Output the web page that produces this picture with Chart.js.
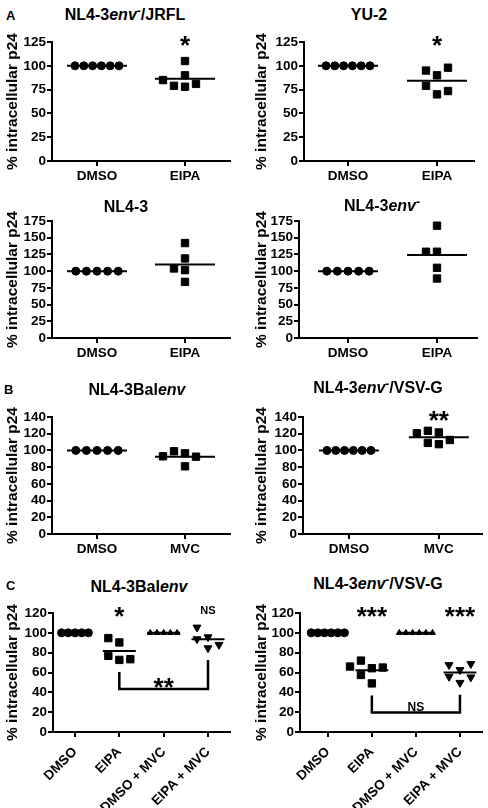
<!DOCTYPE html>
<html>
<head>
<meta charset="utf-8">
<script src="https://cdn.jsdelivr.net/npm/chart.js@4.4.1/dist/chart.umd.min.js"></script>
<style>
  html, body { margin: 0; padding: 0; background: #fff; }
  #page { position: relative; width: 488px; height: 808px; overflow: hidden; font-family: "Liberation Sans", Arial, sans-serif; color: #000; }
  canvas { position: absolute; }
  .ttl { position: absolute; width: 240px; text-align: center; font-weight: bold; font-size: 16px; line-height: 16px; white-space: nowrap; }
  .ttl sup { font-size: 12px; line-height: 0; vertical-align: 5px; }
  .let { position: absolute; font-weight: bold; font-size: 13px; line-height: 13px; }
</style>
</head>
<body>
<div id="page">
  <div class="let" style="left:6px;top:9px">A</div>
  <div class="let" style="left:4px;top:383px">B</div>
  <div class="let" style="left:6px;top:579px">C</div>
  <div class="ttl" style="left:5px;top:7px">NL4-3<i>env</i><sup>-</sup>/JRFL</div>
  <div class="ttl" style="left:249px;top:7px">YU-2</div>
  <div class="ttl" style="left:6px;top:199px">NL4-3</div>
  <div class="ttl" style="left:262px;top:198px">NL4-3<i>env</i><sup>-</sup></div>
  <div class="ttl" style="left:17px;top:382px">NL4-3Bal<i>env</i></div>
  <div class="ttl" style="left:258px;top:380px">NL4-3<i>env</i><sup>-</sup>/VSV-G</div>
  <div class="ttl" style="left:19px;top:579px">NL4-3Bal<i>env</i></div>
  <div class="ttl" style="left:258px;top:576px">NL4-3<i>env</i><sup>-</sup>/VSV-G</div>
</div>
<script>
// categories
const catsEipa = ['DMSO', 'EIPA'];
const catsMvc = ['DMSO', 'MVC'];
const catsCombo = ['DMSO', 'EIPA', 'DMSO + MVC', 'EIPA + MVC'];

// A: % intracellular p24
const jrflDmso = [100, 100, 100, 100, 100, 100];
const jrflEipa = [105, 90, 78, 79, 81, 85];
const jrflSig = ['', '*'];

const yu2Dmso = [100, 100, 100, 100, 100, 100];
const yu2Eipa = [90, 70, 95, 79, 98, 73.5];
const yu2Sig = ['', '*'];

const nl43Dmso = [100, 100, 100, 100, 100];
const nl43Eipa = [142, 119, 101.5, 84, 104];

const envDmso = [100, 100, 100, 100, 100];
const envEipa = [168, 129, 89, 129, 105];

// B
const balDmso = [100, 100, 100, 100, 100];
const balMvc = [96.5, 81, 99, 92.5, 93];

const vsvDmso = [100, 100, 100, 100, 100, 100];
const vsvMvc = [121.5, 107.5, 123.5, 112.5, 109, 120.5];
const vsvSig = ['', '**'];

// C
const balCDmso = [100, 100, 100, 100, 100];
const balCEipa = [90.3, 72.7, 94.7, 76.8, 73.4];
const balCDmsoMvc = [100, 100, 100, 100, 100];
const balCEipaMvc = [95.7, 84.6, 105.5, 93.7, 88];
const balCSig = ['', '*', '', 'NS'];
const balCBracket = [1, 3, '**'];

const vsvCDmso = [100, 100, 100, 100, 100, 100];
const vsvCEipa = [64.3, 49, 72, 65, 66, 57.5];
const vsvCDmsoMvc = [100, 100, 100, 100, 100, 100];
const vsvCEipaMvc = [62.6, 49.7, 67.6, 55.8, 68.7, 55.2];
const vsvCSig = ['', '***', '', '***'];
const vsvCBracket = [1, 3, 'NS'];

const FONT = '"Liberation Sans", Arial, sans-serif';

const markers = {
  circle: { pointStyle: 'circle', radius: 4, rotation: 0 },
  rect: { pointStyle: 'rect', radius: 5.2, rotation: 0 },
  down: { pointStyle: 'triangle', radius: 4.6, rotation: 180 },
  up: { pointStyle: 'triangle', radius: 3.4, rotation: 0 }
};

const looks = {
  AB: { maxGap: 10.6, maxSpan: 44, step: 11, meanHalf: 30, rot: 0, labelPad: 2 },
  C: { maxGap: 6.7, maxSpan: 34, step: 11, meanHalf: 16.5, rot: 45, labelPad: 7 }
};

// canvas: [left, top, width, height]; area: chart area in page px
const panels = [
  { canvas: [0, 24, 244, 162], area: [52, 42, 230, 161], tickPx: [97, 185], yMax: 125, yStep: 25, cats: catsEipa, look: 'AB',
    groups: [[jrflDmso, 'circle'], [jrflEipa, 'rect']], sig: jrflSig },
  { canvas: [249, 24, 239, 162], area: [304, 42, 474, 161], tickPx: [348, 437], yMax: 125, yStep: 25, cats: catsEipa, look: 'AB',
    groups: [[yu2Dmso, 'circle'], [yu2Eipa, 'rect']], sig: yu2Sig },
  { canvas: [0, 210, 244, 155], area: [52, 221, 230, 338], tickPx: [97, 185], yMax: 175, yStep: 25, cats: catsEipa, look: 'AB',
    groups: [[nl43Dmso, 'circle'], [nl43Eipa, 'rect']] },
  { canvas: [249, 210, 239, 155], area: [299, 221, 477, 338], tickPx: [348, 437], yMax: 175, yStep: 25, cats: catsEipa, look: 'AB',
    groups: [[envDmso, 'circle'], [envEipa, 'rect']] },
  { canvas: [0, 398, 244, 162], area: [52, 417, 230, 534], tickPx: [97, 185], yMax: 140, yStep: 20, cats: catsMvc, look: 'AB',
    groups: [[balDmso, 'circle'], [balMvc, 'rect']] },
  { canvas: [249, 395, 239, 165], area: [303, 417, 482, 534], tickPx: [349, 439], yMax: 140, yStep: 20, cats: catsMvc, look: 'AB',
    groups: [[vsvDmso, 'circle'], [vsvMvc, 'rect']], sig: vsvSig },
  { canvas: [0, 596, 244, 212], area: [53, 613, 230, 732], tickPx: [75, 208], yMax: 120, yStep: 20, cats: catsCombo, look: 'C',
    groups: [[balCDmso, 'circle'], [balCEipa, 'rect'], [balCDmsoMvc, 'up'], [balCEipaMvc, 'down']], sig: balCSig, bracket: balCBracket },
  { canvas: [249, 596, 239, 212], area: [300, 613, 483, 732], tickPx: [328, 461], yMax: 120, yStep: 20, cats: catsCombo, look: 'C',
    groups: [[vsvCDmso, 'circle'], [vsvCEipa, 'rect'], [vsvCDmsoMvc, 'up'], [vsvCEipaMvc, 'down']], sig: vsvCSig, bracket: vsvCBracket }
];

// column scatter placement (like GraphPad): offsets in px
function swarm(values, pxY, lk) {
  const n = values.length;
  if (values.every(v => v === values[0])) {
    const gap = Math.min(lk.maxGap, lk.maxSpan / (n - 1));
    return values.map((v, i) => (i - (n - 1) / 2) * gap);
  }
  const placed = [];
  return values.map(v => {
    const y = v * pxY;
    for (let k = 0; ; k++) {
      const slot = k === 0 ? 0 : (k % 2 ? -(k + 1) / 2 : k / 2);
      const x = slot * lk.step;
      const hit = placed.some(p => Math.abs(p.x - x) < lk.step * 0.9 && Math.abs(p.y - y) < 10);
      if (!hit) { placed.push({ x, y }); return x; }
    }
  });
}

const mean = arr => arr.reduce((a, b) => a + b, 0) / arr.length;

function annotations(p) {
  return {
    id: 'annot',
    afterDraw(chart) {
      const { ctx, chartArea, scales: { x, y } } = chart;
      ctx.save();
      ctx.fillStyle = '#000';
      ctx.strokeStyle = '#000';
      ctx.textAlign = 'center';
      ctx.textBaseline = 'alphabetic';
      (p.sig || []).forEach((s, i) => {
        if (!s) return;
        const ns = s === 'NS';
        const fs = ns ? 11 : 26;
        ctx.font = 'bold ' + fs + 'px ' + FONT;
        ctx.fillText(s, x.getPixelForValue(i), chartArea.top - 3 + (ns ? 0.36 : 0.56) * fs);
      });
      if (p.bracket) {
        const [a, b, label] = p.bracket;
        const legA = y.getPixelForValue(Math.min(...p.groups[a][0])) + 12;
        const legB = y.getPixelForValue(Math.min(...p.groups[b][0])) + 12;
        const bar = Math.max(legA, legB) + 17;
        const xa = x.getPixelForValue(a), xb = x.getPixelForValue(b);
        ctx.lineWidth = 2.5;
        ctx.beginPath();
        ctx.moveTo(xa, legA);
        ctx.lineTo(xa, bar);
        ctx.lineTo(xb, bar);
        ctx.lineTo(xb, legB);
        ctx.stroke();
        const ns = label === 'NS';
        const fs = ns ? 12 : 26;
        ctx.font = 'bold ' + fs + 'px ' + FONT;
        ctx.fillText(label, (xa + xb) / 2, bar - (ns ? 6 : 7) + (ns ? 0.36 : 0.56) * fs);
      }
      ctx.restore();
    }
  };
}

function buildPanel(p) {
  const [cl, ct, cw, ch] = p.canvas;
  const [al, at, ar, ab] = p.area;
  const lk = looks[p.look];
  const cv = document.createElement('canvas');
  cv.width = cw; cv.height = ch;
  cv.style.left = cl + 'px'; cv.style.top = ct + 'px';
  cv.style.width = cw + 'px'; cv.style.height = ch + 'px';
  document.getElementById('page').insertBefore(cv, document.getElementById('page').firstChild);

  const pxX = (p.tickPx[1] - p.tickPx[0]) / (p.cats.length - 1);
  const xMin = -(p.tickPx[0] - al) / pxX;
  const xMax = xMin + (ar - al) / pxX;
  const pxY = (ab - at) / p.yMax;

  const pointSets = [], meanSets = [];
  p.groups.forEach(([vals, m], i) => {
    const offs = swarm(vals, pxY, lk);
    const mk = markers[m];
    pointSets.push({
      type: 'scatter',
      data: vals.map((v, j) => ({ x: i + offs[j] / pxX, y: v })),
      pointStyle: mk.pointStyle, pointRadius: mk.radius, pointRotation: mk.rotation,
      backgroundColor: '#000', borderColor: '#000', pointBorderWidth: 1, clip: false
    });
    const mv = mean(vals);
    meanSets.push({
      type: 'line',
      data: [{ x: i - lk.meanHalf / pxX, y: mv }, { x: i + lk.meanHalf / pxX, y: mv }],
      borderColor: '#000', borderWidth: 2, pointRadius: 0, showLine: true, fill: false, clip: false
    });
  });

  const tickFont = { family: FONT, size: 13.5, weight: 'bold' };
  const axisGrid = { display: true, drawOnChartArea: false, drawTicks: true, tickLength: 5, color: '#000', lineWidth: 2 };
  const axisBorder = { display: true, color: '#000', width: 2 };

  new Chart(cv, {
    type: 'scatter',
    data: { datasets: pointSets.concat(meanSets) },
    options: {
      responsive: false,
      devicePixelRatio: 1,
      animation: false,
      events: [],
      layout: { padding: { left: 0, top: at - ct, right: cl + cw - ar, bottom: 0 } },
      plugins: { legend: { display: false }, tooltip: { enabled: false } },
      scales: {
        x: {
          type: 'linear', min: xMin, max: xMax,
          afterBuildTicks: s => { s.ticks = p.cats.map((c, i) => ({ value: i })); },
          afterFit: s => { s.height = ct + ch - ab; },
          ticks: {
            callback: v => p.cats[v], color: '#000', font: tickFont, padding: lk.labelPad,
            autoSkip: false, maxRotation: lk.rot, minRotation: lk.rot
          },
          grid: axisGrid, border: axisBorder
        },
        y: {
          min: 0, max: p.yMax,
          afterFit: s => { s.width = al - cl; },
          ticks: { stepSize: p.yStep, color: '#000', font: tickFont, padding: 1, autoSkip: false },
          grid: axisGrid, border: axisBorder,
          title: {
            display: true, text: '% intracellular p24', color: '#000',
            font: { family: FONT, size: 15.5, weight: 'bold', lineHeight: 1.2 },
            padding: { top: 3, bottom: 0 }
          }
        }
      }
    },
    plugins: [annotations(p)]
  });
}

panels.forEach(buildPanel);
</script>
</body>
</html>
